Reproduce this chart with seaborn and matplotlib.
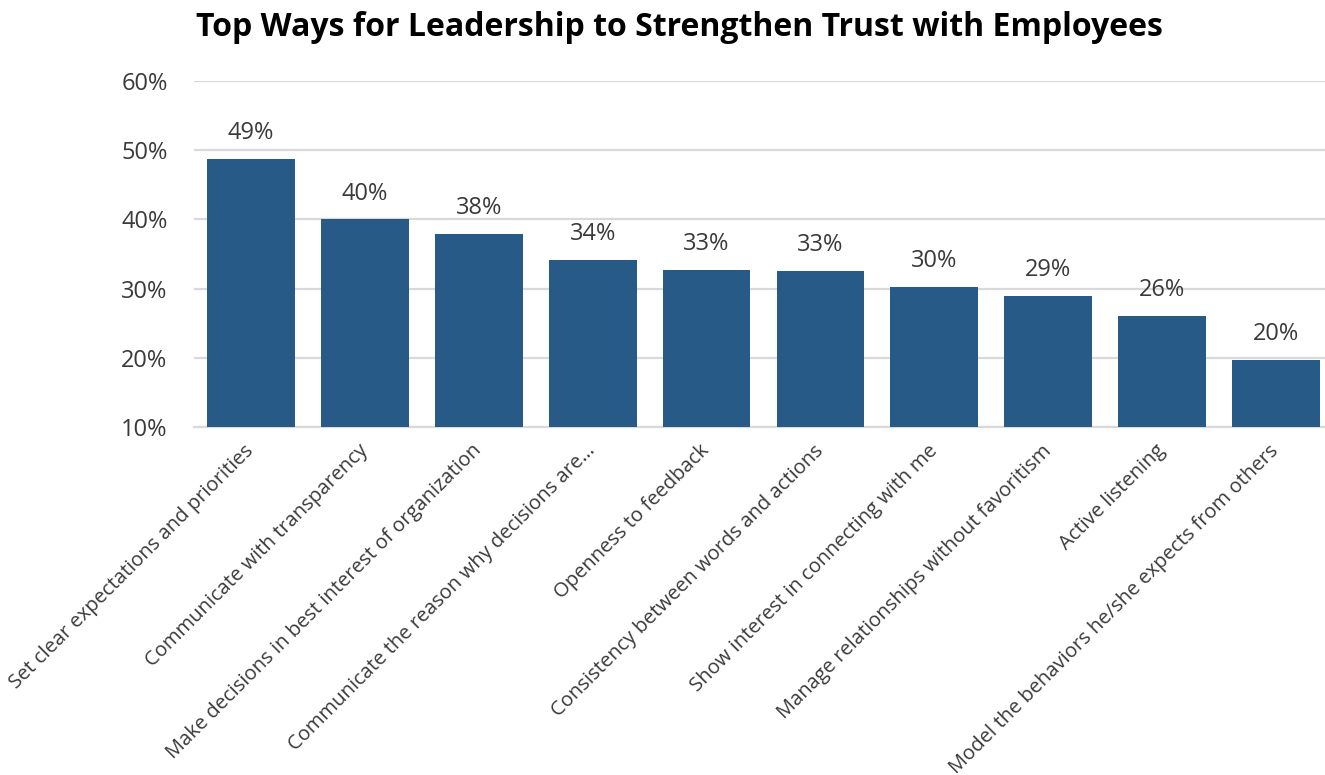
import matplotlib
matplotlib.use("Agg")
import matplotlib.pyplot as plt
import seaborn as sns
import pandas as pd

# Share of respondents choosing each way leadership can strengthen trust (%)
categories = [
    "Set clear expectations and priorities",
    "Communicate with transparency",
    "Make decisions in best interest of organization",
    "Communicate the reason why decisions are\u2026",
    "Openness to feedback",
    "Consistency between words and actions",
    "Show interest in connecting with me",
    "Manage relationships without favoritism",
    "Active listening",
    "Model the behaviors he/she expects from others",
]
values = [48.7, 40.0, 37.9, 34.2, 32.7, 32.6, 30.2, 28.9, 26.0, 19.7]
y_ticks = [10, 20, 30, 40, 50, 60]
title = "Top Ways for Leadership to Strengthen Trust with Employees"

df = pd.DataFrame({"way": categories, "pct": values})

sns.set_theme(style="white")
plt.rcParams["font.family"] = ["Open Sans", "DejaVu Sans"]

BAR = "#275a87"
GRID = "#d9d9d9"
TEXT = "#3a3a3a"

fig = plt.figure(figsize=(13.25, 7.75), dpi=100)
ax = fig.add_axes([194 / 1325, 1 - 427 / 775, (1333 - 194) / 1325, (427 - 81) / 775])

sns.barplot(data=df, x="way", y="pct", color=BAR, saturation=1, width=0.77,
            edgecolor="none", ax=ax, zorder=3)

ax.set_ylim(10, 60)
ax.set_xlim(-0.5, len(categories) - 0.5)
ax.set_yticks(y_ticks)
ax.set_yticklabels([f"{t}%" for t in y_ticks])
ax.yaxis.grid(True, color=GRID, linewidth=1.6, zorder=0)
ax.set_axisbelow(True)
for side in ["top", "right", "left"]:
    ax.spines[side].set_visible(False)
ax.spines["bottom"].set_color(GRID)
ax.spines["bottom"].set_linewidth(1.6)
ax.set_xlabel("")
ax.set_ylabel("")

ax.tick_params(axis="y", length=0, pad=19, labelsize=17, labelcolor=TEXT)
ax.tick_params(axis="x", length=0, pad=15, labelsize=14.5, labelcolor=TEXT)
for lbl in ax.get_xticklabels():
    lbl.set_rotation(45)
    lbl.set_ha("right")
    lbl.set_va("center")
    lbl.set_rotation_mode("anchor")

for i, v in enumerate(values):
    ax.annotate(f"{v:.0f}%", xy=(i, v), xytext=(0, 10), textcoords="offset points",
                ha="center", va="bottom", fontsize=17, color=TEXT)

fig.text(196 / 1325, 1 - 28 / 775, title, fontsize=23, fontweight="bold",
         color="black", ha="left", va="center")

fig.savefig("out.png", dpi=100)
